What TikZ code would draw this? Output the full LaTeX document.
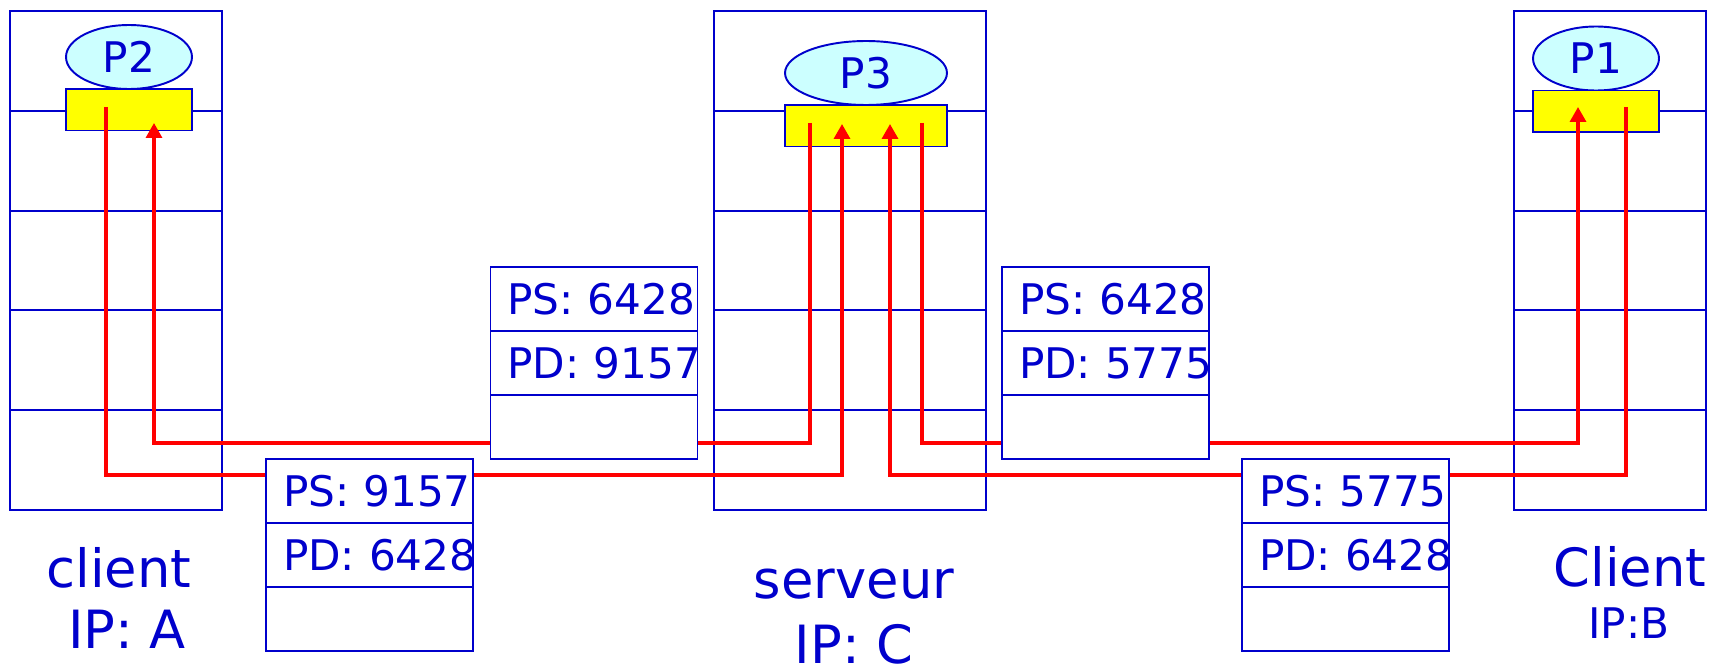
\documentclass[tikz,border=0pt]{standalone}
\usepackage{fontspec}
\setmainfont{DejaVu Sans}
\usetikzlibrary{
  positioning,
  arrows.meta,
  shapes.geometric,
  calc
}
\definecolor{nwBlue}{HTML}{0000CC}
\definecolor{nwCyan}{HTML}{CCFFFF}
\definecolor{nwYellow}{HTML}{FFFF00}
\definecolor{nwRed}{HTML}{FF0000}

\begin{document}
\begin{tikzpicture}[
  x=0.02cm, y=-0.02cm,
  every node/.style={text=nwBlue, inner sep=0pt, outer sep=0pt},
  stackbox/.style={
    rectangle, draw=nwBlue, line width=1.1pt,
    minimum height=9.98cm
  },
  divider/.style={draw=nwBlue, line width=1.1pt},
  procnode/.style={
    ellipse, draw=nwBlue, fill=nwCyan, line width=1.1pt,
    minimum height=1.28cm, font=\fontsize{24}{28}\selectfont
  },
  sockbox/.style={
    rectangle, draw=nwBlue, fill=nwYellow, line width=1.1pt,
    minimum height=0.83cm
  },
  pktrow/.style={
    rectangle, draw=nwBlue, fill=white, line width=1.1pt,
    minimum width=4.14cm, minimum height=1.28cm,
    text width=3.46cm, inner xsep=0.34cm, align=left,
    font=\fontsize{24}{28}\selectfont
  },
  hostlabel/.style={font=\fontsize{30}{36}\selectfont},
  flow/.style={-{Triangle[length=0.3cm, width=0.32cm]}, nwRed, line width=1.9pt}
]
 \useasboundingbox (0,0) rectangle (1727,669);

 % Host stacks (5 layers each)
 \node[stackbox, minimum width=4.24cm] (hA) at (116,260.5) {};
 \node[stackbox, minimum width=5.44cm] (hC) at (850,260.5) {};
 \node[stackbox, minimum width=3.84cm] (hB) at (1610,260.5) {};
 \foreach \s in {hA,hC,hB}
   \foreach \k in {1,...,4}
     \draw[divider] ($(\s.north west)!\k/5!(\s.south west)$) -- ($(\s.north east)!\k/5!(\s.south east)$);

 % Processes and their sockets
 \node[procnode, minimum width=2.52cm] (p2) at (129,57) {P2};
 \node[sockbox, minimum width=2.52cm, below=0pt of p2] (s2) {};
 \node[procnode, minimum width=3.24cm] (p3) at (866,73) {P3};
 \node[sockbox, minimum width=3.24cm, below=0pt of p3] (s3) {};
 \node[procnode, minimum width=2.52cm] (p1) at (1596,58.5) {P1};
 \node[sockbox, minimum width=2.52cm, below=0pt of p1] (s1) {};

 % Ports and wire levels
 \coordinate (p2out) at (106,107);
 \coordinate (p2in) at (154,123);
 \coordinate (p3outA) at (810,123);
 \coordinate (p3inA) at (842,124);
 \coordinate (p3inB) at (890,124);
 \coordinate (p3outB) at (922,123);
 \coordinate (p1in) at (1578,107);
 \coordinate (p1out) at (1626,107);
 \coordinate (hiwire) at (0,443);
 \coordinate (lowire) at (0,475);

 % Flows
 \draw[flow] (p3outA) -- (p3outA |- hiwire) -- (p2in |- hiwire) -- (p2in);
 \draw[flow] (p2out) -- (p2out |- lowire) -- (p3inA |- lowire) -- (p3inA);
 \draw[flow] (p3outB) -- (p3outB |- hiwire) -- (p1in |- hiwire) -- (p1in);
 \draw[flow] (p1out) -- (p1out |- lowire) -- (p3inB |- lowire) -- (p3inB);

 % Segments
 \node[pktrow] (a1) at (594,299) {\mbox{PS: 6428}};
 \node[pktrow, below=0pt of a1] (a2) {\mbox{PD: 9157}};
 \node[pktrow, below=0pt of a2] (a3) {};

 \node[pktrow] (b1) at (369.5,491) {\mbox{PS: 9157}};
 \node[pktrow, below=0pt of b1] (b2) {\mbox{PD: 6428}};
 \node[pktrow, below=0pt of b2] (b3) {};

 \node[pktrow] (c1) at (1105.5,299) {\mbox{PS: 6428}};
 \node[pktrow, below=0pt of c1] (c2) {\mbox{PD: 5775}};
 \node[pktrow, below=0pt of c2] (c3) {};

 \node[pktrow] (d1) at (1345.5,491) {\mbox{PS: 5775}};
 \node[pktrow, below=0pt of d1] (d2) {\mbox{PD: 6428}};
 \node[pktrow, below=0pt of d2] (d3) {};

 % Host labels
 \node[hostlabel] (nA) at (119,568) {client};
 \node[hostlabel] (ipA) at (127,629) {IP: A};
 \node[hostlabel] (nC) at (854,584) {serveur};
 \node[hostlabel] (ipC) at (854,644) {IP: C};
 \node[hostlabel] (nB) at (1630,567) {Client};
 \node[hostlabel, font=\fontsize{24}{28}\selectfont] (ipB) at (1629,623) {IP:B};
\end{tikzpicture}
\end{document}
